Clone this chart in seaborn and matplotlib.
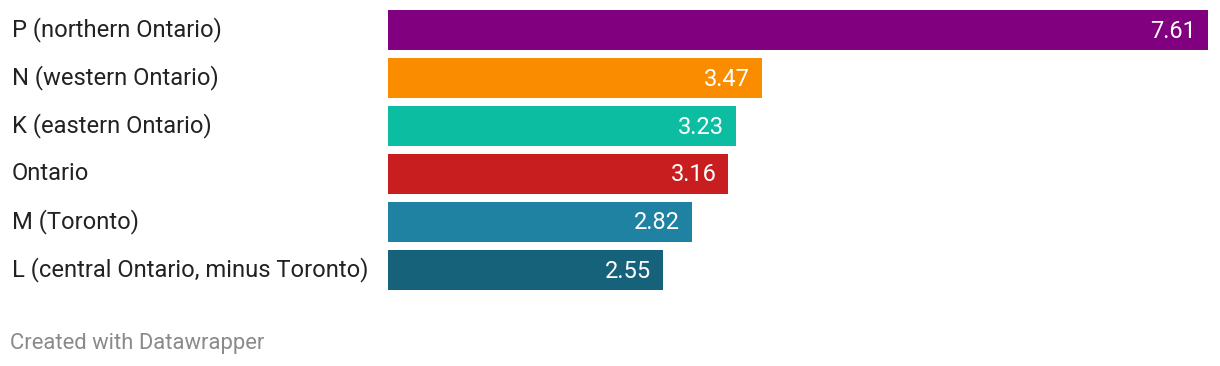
import matplotlib
matplotlib.use("Agg")
import matplotlib.pyplot as plt
import matplotlib.transforms as mtransforms
import seaborn as sns
import pandas as pd

regions = ["P (northern Ontario)", "N (western Ontario)", "K (eastern Ontario)",
           "Ontario", "M (Toronto)", "L (central Ontario, minus Toronto)"]
values = [7.61, 3.47, 3.23, 3.16, 2.82, 2.55]
colors = ["#800080", "#fa8c00", "#0cbda1", "#c81e1f", "#1f82a2", "#17627b"]

df = pd.DataFrame({"region": regions, "value": values})

sns.set_style("white")
plt.rcParams["font.family"] = ["Roboto", "DejaVu Sans"]

W, H = 1220, 366
fig = plt.figure(figsize=(W / 100, H / 100), dpi=100)
ax = fig.add_axes([388 / W, 1 - 290 / H, (1208 - 388) / W, 280 / H])

bw = 40 / 48
sns.barplot(data=df, x="value", y="region", hue="region", palette=colors,
            legend=False, width=bw, ax=ax, orient="h", saturation=1, linewidth=0)

ax.set_xlim(0, max(values))
ax.set_ylim(len(values) - 1 + bw / 2, -bw / 2)
ax.set_axis_off()

# labels on the left, values inside bars
trans = mtransforms.blended_transform_factory(fig.transFigure, ax.transData)
for i, (r, v) in enumerate(zip(regions, values)):
    fig.text(12 / W, i, r, transform=trans, ha="left", va="center",
             fontsize=17.1, color="#222222")
    ax.annotate(f"{v:.2f}", xy=(v, i), xytext=(-12, -1), textcoords="offset pixels",
                ha="right", va="center", fontsize=17, color="white")

fig.text(10 / W, 1 - 343 / H, "Created with Datawrapper", ha="left", va="center",
         fontsize=15.8, color="#8a8a8a")

fig.savefig("out.png", dpi=100)
